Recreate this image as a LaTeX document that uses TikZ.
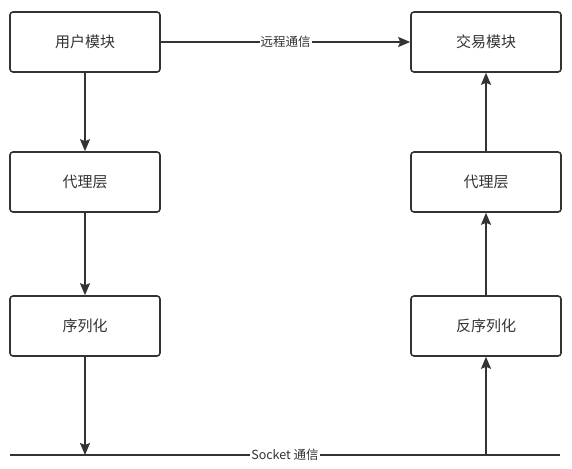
\documentclass[tikz,border=0pt]{standalone}
\usepackage{fontspec}
\setmainfont{Noto Sans CJK SC}
\usetikzlibrary{arrows.meta}
\definecolor{ink}{HTML}{333333}
\tikzset{
  box/.style={draw=ink, line width=1.6pt, rounded corners=3pt, fill=white,
    minimum width=150pt, minimum height=60pt, inner sep=0pt,
    font=\fontsize{15}{17}\selectfont, text=ink},
  conn/.style={draw=ink, line width=1.6pt, -{Stealth[length=12pt,width=10pt,inset=2pt]}},
  plain/.style={draw=ink, line width=1.6pt},
  lbl/.style={fill=white, inner sep=1pt, font=\fontsize{12.5}{14}\selectfont, text=ink}
}
\begin{document}
\begin{tikzpicture}[x=1pt,y=-1pt]
\useasboundingbox (0,0) rectangle (572,468);
\node[box] (user) at (85,42) {用户模块};
\node[box] (proxyL) at (85,182) {代理层};
\node[box] (ser) at (85,326) {序列化};
\node[box] (trade) at (486,42) {交易模块};
\node[box] (proxyR) at (486,182) {代理层};
\node[box] (deser) at (486,326) {反序列化};
\coordinate (bl) at (10,455);
\coordinate (br) at (560,455);
\coordinate (up) at (486,455);
\draw[conn] (user) -- node[lbl] {远程通信} (trade);
\draw[conn] (user) -- (proxyL);
\draw[conn] (proxyL) -- (ser);
\draw[conn] (ser.south) -- (ser.south |- bl);
\draw[plain] (bl) -- node[lbl] {Socket 通信} (br);
\draw[conn] (up) -- (deser.south);
\draw[conn] (deser) -- (proxyR);
\draw[conn] (proxyR) -- (trade);
\end{tikzpicture}
\end{document}
